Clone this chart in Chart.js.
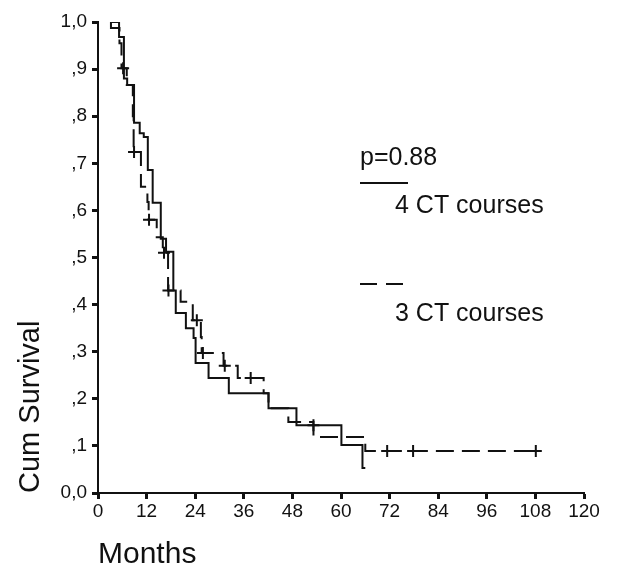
<!DOCTYPE html>
<html lang="en">
<head>
    <meta charset="UTF-8">
    <title>Cum Survival by CT courses</title>
    <style>
        body {
            margin: 0;
            padding: 0;
            background-color: #fff;
        }

        .chart-box {
            position: relative;
            width: 617px;
            height: 585px;
        }
    </style>
    <script src="https://cdn.jsdelivr.net/npm/chart.js"></script>
</head>
<body>

<div class="chart-box">
    <canvas id="survivalChart" width="617" height="585"></canvas>
</div>

<script>
    // Axis ticks
    const monthTicks = [0, 12, 24, 36, 48, 60, 72, 84, 96, 108, 120];
    const survivalTicks = [0, 0.1, 0.2, 0.3, 0.4, 0.5, 0.6, 0.7, 0.8, 0.9, 1.0];
    const survivalLabels = ['0,0', ',1', ',2', ',3', ',4', ',5', ',6', ',7', ',8', ',9', '1,0'];

    // 4 CT courses (solid line): month of each step and survival after it
    const fourMonths   = [3.2, 5.2, 6.4, 7.2, 8.9, 10.3, 11.3, 12.3, 13.5, 15.5, 16.8, 18.6, 19.2, 21.7, 23.6, 24.1, 27.3, 32.3, 42.1, 49.0, 60.1, 65.3, 66.0];
    const fourSurvival = [1.0, 0.968, 0.88, 0.866, 0.786, 0.764, 0.756, 0.686, 0.616, 0.54, 0.512, 0.43, 0.382, 0.35, 0.329, 0.276, 0.244, 0.212, 0.18, 0.144, 0.102, 0.053, 0.053];
    const fourCensorMonths   = [53.2];
    const fourCensorSurvival = [0.144];

    // 3 CT courses (dashed line)
    const threeMonths   = [3.2, 3.2, 5.3, 5.8, 7.1, 8.6, 8.8, 10.6, 12.2, 12.5, 14.5, 16.0, 17.3, 20.4, 23.4, 25.4, 25.6, 31.0, 34.5, 40.9, 42.1, 47.0, 53.2, 66.0, 108.1];
    const threeSurvival = [1.0, 0.987, 0.955, 0.902, 0.866, 0.80, 0.724, 0.65, 0.618, 0.58, 0.543, 0.51, 0.43, 0.406, 0.367, 0.331, 0.297, 0.27, 0.244, 0.212, 0.18, 0.151, 0.119, 0.089, 0.089];
    const threeCensorMonths   = [6.2, 8.9, 12.6, 16.3, 17.4, 24.4, 25.9, 31.3, 37.7, 71.4, 77.8, 108.1];
    const threeCensorSurvival = [0.902, 0.724, 0.58, 0.51, 0.43, 0.367, 0.297, 0.27, 0.244, 0.089, 0.089, 0.089];

    // lone "+" printed past the end of the x axis
    const strayMonths   = [126.8];
    const straySurvival = [0.013];

    const ink = '#111';
    const fontFamily = '"Liberation Sans", Arial, sans-serif';

    function toPoints(xs, ys) {
        return xs.map((x, i) => ({ x: x, y: ys[i] }));
    }

    // legend text and line samples on the right
    const legendPlugin = {
        id: 'ctLegend',
        afterDraw(chart) {
            const ctx = chart.ctx;
            ctx.save();
            ctx.fillStyle = ink;
            ctx.strokeStyle = ink;
            ctx.font = '25px ' + fontFamily;
            ctx.textBaseline = 'alphabetic';
            ctx.fillText('p=0.88', 360, 165);
            ctx.lineWidth = 2;
            ctx.beginPath();
            ctx.moveTo(360, 183);
            ctx.lineTo(408, 183);
            ctx.stroke();
            ctx.fillText('4 CT courses', 395, 213);
            ctx.setLineDash([17, 9]);
            ctx.beginPath();
            ctx.moveTo(360, 284);
            ctx.lineTo(404, 284);
            ctx.stroke();
            ctx.fillText('3 CT courses', 395, 321);
            ctx.restore();
        }
    };

    const censorStyle = {
        showLine: false,
        pointStyle: 'cross',
        pointRadius: 6,
        pointBorderWidth: 2,
        pointBorderColor: ink,
        pointBackgroundColor: ink
    };

    const ctx = document.getElementById('survivalChart').getContext('2d');
    const survivalChart = new Chart(ctx, {
        type: 'scatter',
        data: {
            datasets: [
                {
                    label: '4 CT courses',
                    data: toPoints(fourMonths, fourSurvival),
                    showLine: true,
                    stepped: 'before', // flat first, then drop at the event month
                    borderColor: ink,
                    borderWidth: 2,
                    pointRadius: 0,
                    fill: false
                },
                {
                    label: '3 CT courses',
                    data: toPoints(threeMonths, threeSurvival),
                    showLine: true,
                    stepped: 'before',
                    borderColor: ink,
                    borderWidth: 2,
                    borderDash: [18, 8],
                    pointRadius: 0,
                    fill: false
                },
                Object.assign({ label: '4 CT censored', data: toPoints(fourCensorMonths, fourCensorSurvival) }, censorStyle),
                Object.assign({ label: '3 CT censored', data: toPoints(threeCensorMonths, threeCensorSurvival) }, censorStyle),
                Object.assign({ label: 'mark', data: toPoints(strayMonths, straySurvival), clip: false }, censorStyle, { pointRadius: 5, pointBorderWidth: 1.5 })
            ]
        },
        options: {
            responsive: false,
            animation: false,
            layout: {
                padding: { top: 22, right: 33, bottom: 0, left: 0 }
            },
            plugins: {
                legend: { display: false },
                tooltip: { enabled: false }
            },
            scales: {
                x: {
                    type: 'linear',
                    min: 0,
                    max: 120,
                    afterFit: (scale) => { scale.height = 92; },
                    afterBuildTicks: (scale) => { scale.ticks = monthTicks.map(v => ({ value: v })); },
                    ticks: {
                        color: ink,
                        font: { family: fontFamily, size: 19 },
                        padding: 1,
                        maxRotation: 0,
                        autoSkip: false
                    },
                    grid: {
                        drawOnChartArea: false,
                        drawTicks: true,
                        tickLength: 6,
                        tickWidth: 3,
                        tickColor: ink
                    },
                    border: { display: true, color: ink, width: 2 },
                    title: {
                        display: true,
                        text: 'Months',
                        align: 'start',
                        color: ink,
                        font: { family: fontFamily, size: 30 },
                        padding: { top: 0, bottom: 12 }
                    }
                },
                y: {
                    min: 0,
                    max: 1,
                    afterFit: (scale) => { scale.width = 98; },
                    afterBuildTicks: (scale) => { scale.ticks = survivalTicks.map(v => ({ value: v })); },
                    ticks: {
                        color: ink,
                        font: { family: fontFamily, size: 19 },
                        padding: 5,
                        callback: (value) => survivalLabels[Math.round(value * 10)]
                    },
                    grid: {
                        drawOnChartArea: false,
                        drawTicks: true,
                        tickLength: 6,
                        tickWidth: 3,
                        tickColor: ink
                    },
                    border: { display: true, color: ink, width: 2 },
                    title: {
                        display: true,
                        text: 'Cum Survival',
                        align: 'start',
                        color: ink,
                        font: { family: fontFamily, size: 29 },
                        padding: { top: 14, bottom: 0 }
                    }
                }
            }
        },
        plugins: [legendPlugin]
    });
</script>

</body>
</html>
